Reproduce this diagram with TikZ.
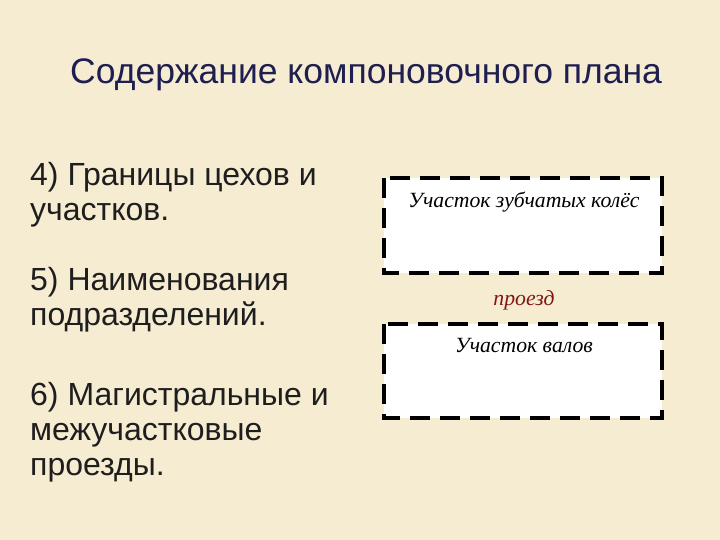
\documentclass[tikz,border=0pt]{standalone}
\usepackage{fontspec}
\setmainfont{Liberation Sans}
\newfontfamily\zitfont{Liberation Serif Italic}
\begin{document}
\begin{tikzpicture}[x=1pt,y=-1pt,
  zone/.style={draw=black,fill=white,line width=3.5pt,dash pattern=on 20pt off 10pt},
  lbl/.style={anchor=north west,align=left,font=\fontsize{32}{35}\selectfont,text={rgb,255:red,30;green,30;blue,30},inner sep=0pt}]
\fill[fill={rgb,255:red,246;green,236;blue,210}] (0,0) rectangle (720,540);
\useasboundingbox (0,0) rectangle (720,540);
\node[anchor=west,inner sep=0pt,font=\fontsize{35.5}{40}\selectfont,text={rgb,255:red,30;green,30;blue,80}] (title) at (70,75) {Содержание компоновочного плана};
\node[lbl] (t4) at (30,162) {4) Границы цехов и\\участков.};
\node[lbl] (t5) at (30,267) {5) Наименования\\подразделений.};
\node[lbl] (t6) at (30,382) {6) Магистральные и\\межучастковые\\проезды.};
\draw[zone] (384,178) rectangle (662,273);
\draw[zone] (384,324) rectangle (662,418);
\node[font=\zitfont\fontsize{21.7}{25}\selectfont] (z1) at (524,202) {Участок зубчатых колёс};
\node[font=\zitfont\fontsize{21.7}{25}\selectfont,text={rgb,255:red,130;green,20;blue,20}] (pr) at (524,300) {проезд};
\node[font=\zitfont\fontsize{21.7}{25}\selectfont] (z2) at (524,346) {Участок валов};
\end{tikzpicture}
\end{document}
